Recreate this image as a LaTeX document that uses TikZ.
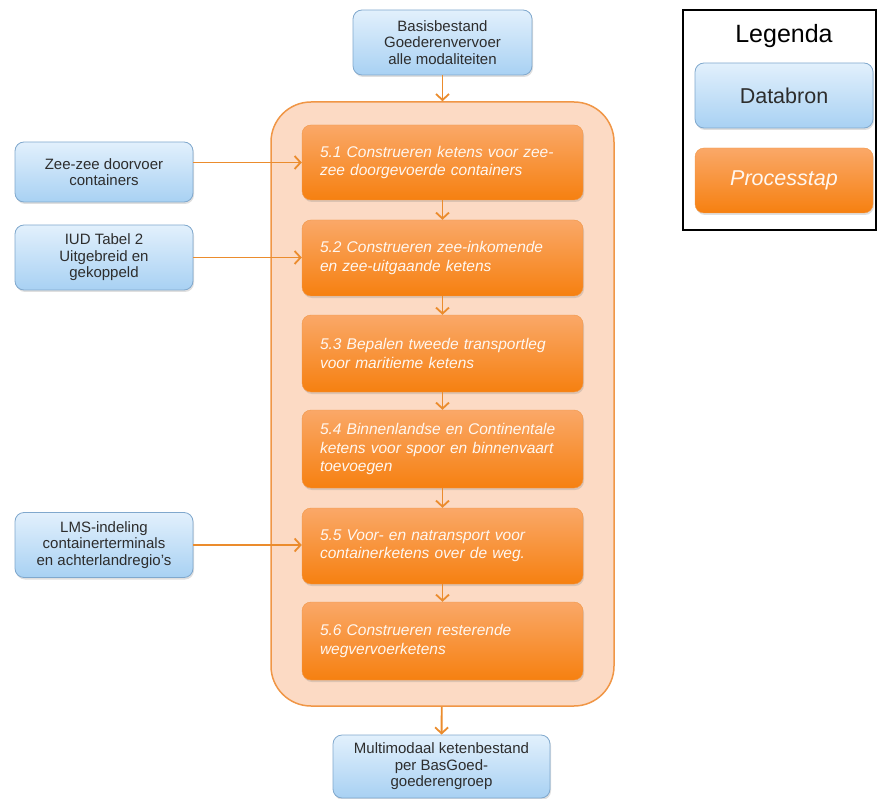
\documentclass[tikz,border=0pt]{standalone}
\usepackage{fontspec}
\setmainfont{Liberation Sans}
\usetikzlibrary{arrows.meta,shadows}

\definecolor{blauwboven}{RGB}{226,240,252}
\definecolor{blauwonder}{RGB}{168,209,243}
\definecolor{blauwrand}{RGB}{128,168,205}
\definecolor{oranjeboven}{RGB}{250,168,104}
\definecolor{oranjeonder}{RGB}{246,128,16}
\definecolor{oranjerand}{RGB}{240,150,70}
\definecolor{kaderfill}{RGB}{252,218,196}
\definecolor{pijlkleur}{RGB}{235,140,45}
\definecolor{tekstgrijs}{RGB}{45,45,45}

\begin{document}
\begin{tikzpicture}[
  x=1pt, y=-1pt,
  bron/.style={rectangle, rounded corners=9pt, draw=blauwrand, thick,
    top color=blauwboven, bottom color=blauwonder, text=tekstgrijs,
    align=center, inner sep=2pt, font=\fontsize{15}{16.5}\selectfont,
    drop shadow={opacity=0.25, shadow xshift=1pt, shadow yshift=-2pt}},
  stap/.style={rectangle, rounded corners=9pt, draw=oranjerand, thin,
    top color=oranjeboven, bottom color=oranjeonder, text=white!94!orange,
    align=left, inner xsep=18pt, text width=245pt, minimum width=281pt,
    font=\fontsize{15.5}{18.5}\selectfont\itshape,
    drop shadow={opacity=0.25, shadow xshift=1pt, shadow yshift=-2pt}},
  kader/.style={rectangle, rounded corners=40pt, draw=oranjerand, line width=1.5pt,
    fill=kaderfill, minimum width=343pt, minimum height=604pt},
  pijl/.style={draw=pijlkleur, line width=1.8pt, -{Straight Barb[length=6pt,width=13pt]}}
]
  \useasboundingbox (0,0) rectangle (877,799);

  % kader achter de processtappen
  \node[kader] (kader) at (442.5,404) {};

  % databronnen
  \node[bron, minimum width=179pt, minimum height=65pt] (basis) at (442.5,42.5)
    {Basisbestand\\Goederenvervoer\\alle modaliteiten};
  \node[bron, minimum width=178pt, minimum height=60pt] (zee) at (104,172)
    {Zee-zee doorvoer\\containers};
  \node[bron, minimum width=178pt, minimum height=65pt] (iud) at (104,257.5)
    {IUD Tabel 2\\Uitgebreid en\\gekoppeld};
  \node[bron, minimum width=178pt, minimum height=65pt] (lms) at (104,545)
    {LMS-indeling\\containerterminals\\en achterlandregio's};
  \node[bron, minimum width=217pt, minimum height=63pt] (uit) at (441.5,766.5)
    {Multimodaal ketenbestand\\per BasGoed-\\goederengroep};

  % processtappen
  \node[stap, minimum height=75pt] (s1) at (442.5,162.5)
    {5.1 Construeren ketens voor zee-\\zee doorgevoerde containers};
  \node[stap, minimum height=76pt] (s2) at (442.5,258)
    {5.2 Construeren zee-inkomende\\en zee-uitgaande ketens};
  \node[stap, minimum height=77pt] (s3) at (442.5,353.5)
    {5.3 Bepalen tweede transportleg\\voor maritieme ketens};
  \node[stap, minimum height=78pt] (s4) at (442.5,449)
    {5.4 Binnenlandse en Continentale\\ketens voor spoor en binnenvaart\\toevoegen};
  \node[stap, minimum height=76pt] (s5) at (442.5,546)
    {5.5 Voor- en natransport voor\\containerketens over de weg.};
  \node[stap, minimum height=78pt] (s6) at (442.5,641)
    {5.6 Construeren resterende\\wegvervoerketens};

  % pijlen
  \draw[pijl] (basis) -- (kader);
  \draw[pijl] (zee.east |- s1.west) -- (s1.west);
  \draw[pijl] (iud) -- (iud -| s2.west);
  \draw[pijl] (lms) -- (lms -| s5.west);
  \draw[pijl] (s1) -- (s2); \draw[pijl] (s2) -- (s3); \draw[pijl] (s3) -- (s4);
  \draw[pijl] (s4) -- (s5); \draw[pijl] (s5) -- (s6);
  \draw[pijl] (kader) -- (uit);

  % legenda
  \node[draw, line width=2.5pt, minimum width=193pt, minimum height=220pt] (legenda) at (779.5,120) {};
  \node[font=\fontsize{25}{28}\selectfont] (legtitel) at (784,36) {Legenda};
  \node[bron, minimum width=178pt, minimum height=65pt, font=\fontsize{21.5}{24}\selectfont] (legbron) at (784,95.5) {Databron};
  \node[stap, text width=, align=center, minimum width=178pt, minimum height=65pt, inner xsep=2pt,
    font=\fontsize{21.5}{24}\selectfont\itshape] (legstap) at (784,180.5) {Processtap};
\end{tikzpicture}
\end{document}
